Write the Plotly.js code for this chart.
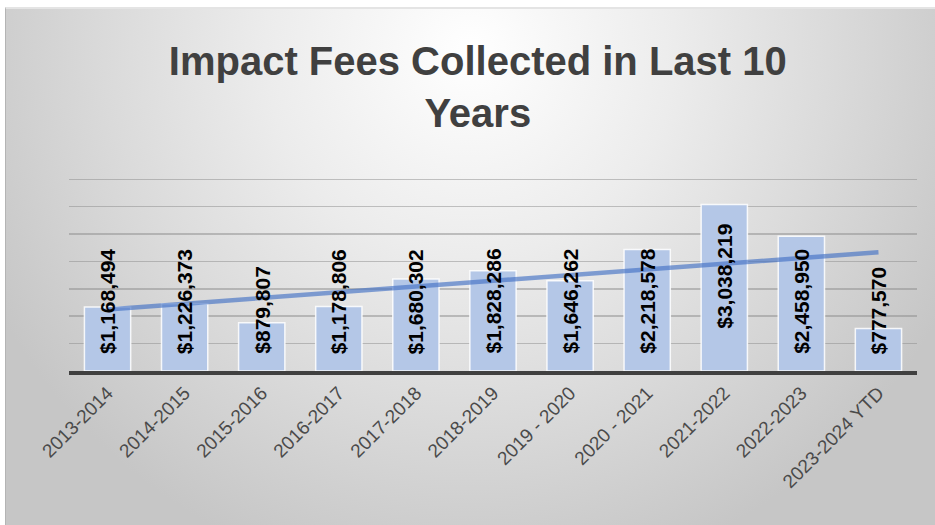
<!DOCTYPE html>
<html>
<head>
<meta charset="utf-8">
<script src="https://cdn.plot.ly/plotly-3.0.1.min.js"></script>
<style>
  html, body { margin: 0; padding: 0; background: #ffffff; }
  #wrap { position: relative; width: 935px; height: 525px; overflow: hidden; }
  #bg {
    position: absolute; left: 5px; top: 7px; width: 930px; height: 518px;
    box-sizing: border-box;
    border-left: 1px solid #b4b4b4; border-top: 2px solid #e4e4e4;
    background: radial-gradient(ellipse 58% 105% at 50% 8%, #ffffff 0%, #ececec 38%, #dadada 68%, #c6c6c6 100%);
  }
  #chart { position: absolute; left: 0; top: 0; width: 935px; height: 525px; }
</style>
</head>
<body>
<div id="wrap">
  <div id="bg"></div>
  <div id="chart"></div>
</div>
<script>
// ---- data ----
var categories = ['2013-2014', '2014-2015', '2015-2016', '2016-2017', '2017-2018', '2018-2019',
                  '2019 - 2020', '2020 - 2021', '2021-2022', '2022-2023', '2023-2024 YTD'];
var fees = [1168494, 1226373, 879807, 1178806, 1680302, 1828286,
            1646262, 2218578, 3038219, 2458950, 777570];
var chartTitle = 'Impact Fees Collected in Last 10<br>Years';

// ---- linear trendline (least squares over category index, as Excel does) ----
var n = fees.length;
var mx = 0, my = 0;
for (var i = 0; i < n; i++) { mx += i; my += fees[i]; }
mx /= n; my /= n;
var sxy = 0, sxx = 0;
for (var i = 0; i < n; i++) { sxy += (i - mx) * (fees[i] - my); sxx += (i - mx) * (i - mx); }
var slope = sxy / sxx, intercept = my - slope * mx;
var trend = fees.map(function (_, i) { return intercept + slope * i; });

function money(v) { return '$' + v.toLocaleString('en-US'); }
var maxFee = Math.max.apply(null, fees);

var bars = {
  type: 'bar', x: categories, y: fees,
  marker: { color: '#b4c7e7', line: { color: 'rgba(255,255,255,0.85)', width: 1.5 } },
  hoverinfo: 'skip', showlegend: false
};
var trendLine = {
  type: 'scatter', mode: 'lines', x: categories, y: trend,
  line: { color: 'rgba(68,114,196,0.65)', width: 4.5 },
  hoverinfo: 'skip', showlegend: false
};

var annotations = categories.map(function (c, i) {
  return {
    x: c, y: 0, xref: 'x', yref: 'y',
    text: money(fees[i]), showarrow: false, textangle: -90,
    xanchor: 'center', yanchor: 'bottom',
    yshift: fees[i] === maxFee ? 40 : 15,
    font: { family: 'Liberation Sans, Arial, sans-serif', size: 21, color: '#000000', weight: 'bold' }
  };
});

var layout = {
  width: 935, height: 525,
  paper_bgcolor: 'rgba(0,0,0,0)', plot_bgcolor: 'rgba(0,0,0,0)',
  margin: { l: 69, r: 18, t: 176, b: 154 },
  title: {
    text: chartTitle, xref: 'container', yref: 'container',
    x: 0.511, xanchor: 'center', y: 1 - 75 / 525, yanchor: 'top',
    font: { family: 'Liberation Sans, Arial, sans-serif', size: 40, color: '#404040', weight: 'bold' }
  },
  bargap: 0.4,
  xaxis: {
    type: 'category', tickangle: -45, showgrid: false, zeroline: false,
    showline: true, linecolor: '#404040', linewidth: 3.5, ticks: '',
    tickfont: { family: 'Liberation Sans, Arial, sans-serif', size: 19, color: '#4a4a4a' },
    fixedrange: true
  },
  yaxis: {
    range: [0, 3560000], dtick: 500000, showticklabels: false, zeroline: false,
    showgrid: true, gridcolor: 'rgba(140,140,140,0.5)', gridwidth: 1.5, showline: false,
    fixedrange: true
  },
  annotations: annotations,
  hovermode: false
};

Plotly.newPlot('chart', [bars, trendLine], layout, { displayModeBar: false, staticPlot: true });
</script>
</body>
</html>
